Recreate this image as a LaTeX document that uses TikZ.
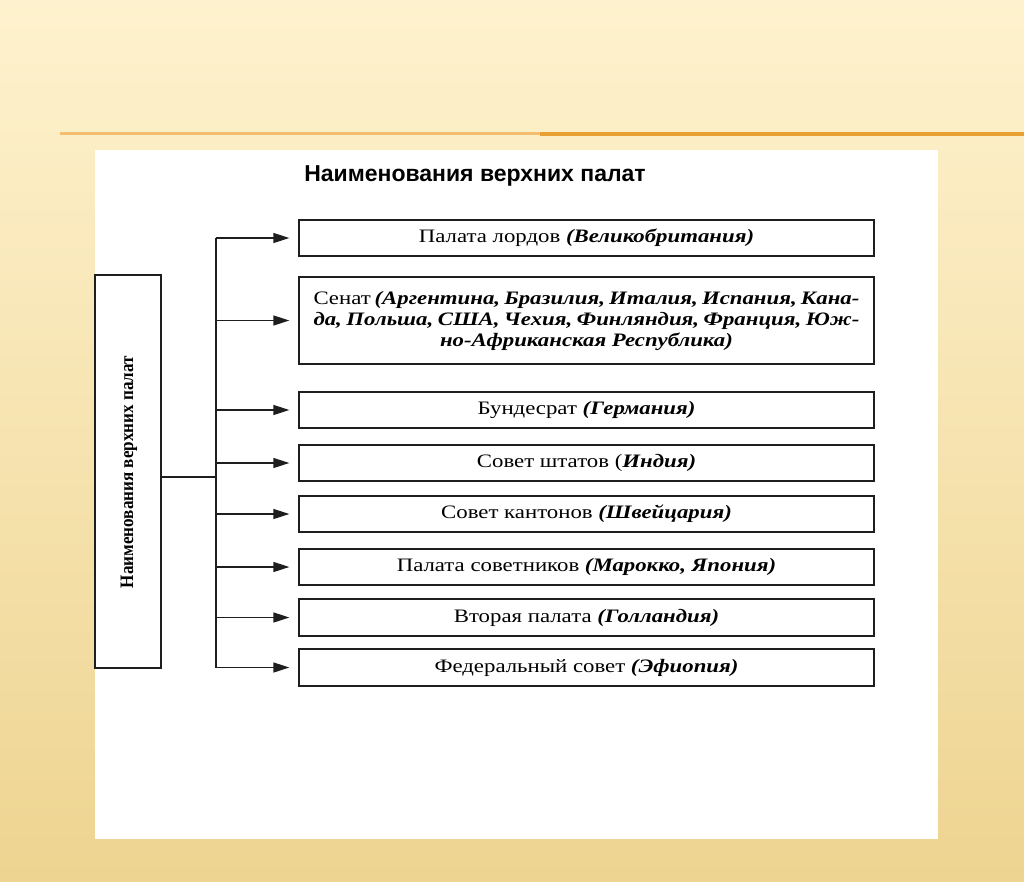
\documentclass[tikz,border=0pt]{standalone}
\usepackage{fontspec}
\setmainfont{Liberation Serif}
\newfontfamily\bodyfont[FakeStretch=1.2]{Liberation Serif}
\newfontfamily\titlefont[FakeStretch=1.0]{Liberation Sans}
\newfontfamily\sidefont[FakeStretch=0.90]{Liberation Serif}
\usetikzlibrary{arrows.meta}
\definecolor{bgtop}{RGB}{254,242,206}
\definecolor{bgbot}{RGB}{238,212,145}
\definecolor{orangeA}{RGB}{243,190,110}
\definecolor{orangeB}{RGB}{232,160,50}
\definecolor{ink}{RGB}{30,30,30}
\tikzset{
  itembox/.style={draw=ink, line width=1.3pt, minimum width=575pt, inner sep=0pt, font=\bodyfont\fontsize{19}{21}\selectfont},
  feed/.style={draw=ink, line width=1.3pt, -{Triangle[length=16pt,width=10pt]}, shorten >=9pt},
  trunk/.style={draw=ink, line width=1.3pt},
}
\newcommand{\cty}[1]{\textbf{\textit{#1}}}
\begin{document}
\begin{tikzpicture}[x=1pt,y=-1pt]
\useasboundingbox (0,0) rectangle (1024,881);
% background
\shade[top color=bgtop, bottom color=bgbot] (0,0) rectangle (1024,881);
% orange rule
\fill[orangeA] (60,132) rectangle (540,135);
\fill[orangeB] (540,131.5) rectangle (1024,136);
% white panel
\fill[white] (95,150) rectangle (938,839);
% title
\node[anchor=base, font=\titlefont\bfseries\fontsize{23}{25}\selectfont, text=black] (title) at (475,181) {Наименования верхних палат};
% left box
\node[draw=ink, line width=1.3pt, minimum width=66pt, minimum height=393pt, inner sep=0pt] (left) at (128,471.5) {};
\node[rotate=90, font=\sidefont\bfseries\fontsize{19}{22}\selectfont] (lefttext) at (129,472) {Наименования верхних палат};
% boxes
\node[itembox, minimum height=36pt] (b1) at (586.5,238) {Палата лордов \cty{(Великобритания)}};
\node[itembox, minimum height=87pt, align=center] (b2) at (586.5,320.5) {%
  \makebox[546pt][s]{Сенат \cty{(Аргентина, Бразилия, Италия, Испания, Кана-}}\\
  \makebox[546pt][s]{\cty{да, Польша, США, Чехия, Финляндия, Франция, Юж-}}\\
  \cty{но-Африканская Республика)}};
\node[itembox, minimum height=36pt] (b3) at (586.5,410) {Бундесрат \cty{(Германия)}};
\node[itembox, minimum height=36pt] (b4) at (586.5,463) {Совет штатов (\cty{Индия)}};
\node[itembox, minimum height=36pt] (b5) at (586.5,514) {Совет кантонов \cty{(Швейцария)}};
\node[itembox, minimum height=36pt] (b6) at (586.5,567) {Палата советников \cty{(Марокко, Япония)}};
\node[itembox, minimum height=37pt] (b7) at (586.5,617.5) {Вторая палата \cty{(Голландия)}};
\node[itembox, minimum height=37pt] (b8) at (586.5,667.5) {Федеральный совет \cty{(Эфиопия)}};
% connectors
\coordinate (ttop) at (216,238);
\coordinate (tbot) at (216,667.5);
\coordinate (join) at (216,477);
\draw[trunk] (ttop) -- (tbot);
\draw[trunk] (left.east |- join) -- (join);
\foreach \b in {b1,b2,b3,b4,b5,b6,b7,b8}{
  \draw[feed] (ttop |- \b.west) -- (\b.west);
}
\end{tikzpicture}
\end{document}
